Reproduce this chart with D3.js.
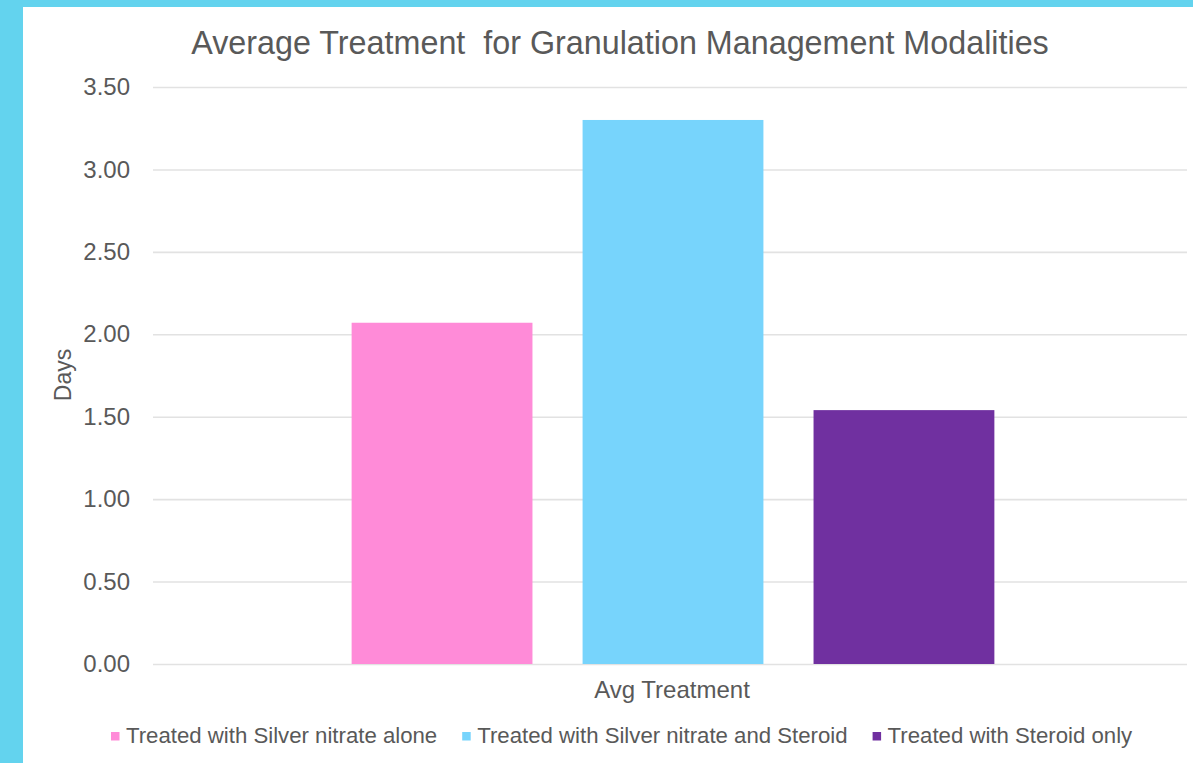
<!DOCTYPE html>
<html>
<head>
<meta charset="utf-8">
<script src="https://cdn.jsdelivr.net/npm/d3@7"></script>
<style>
  html, body { margin: 0; padding: 0; background: #63d3ee; }
  svg { display: block; }
  text { font-family: "Liberation Sans", Arial, Helvetica, sans-serif; fill: #595959; }
</style>
</head>
<body>
<svg id="chart" width="1193" height="763"></svg>
<script>
// Average days of treatment per granulation management modality
const categories = ["Avg Treatment"];
const seriesNames = [
  "Treated with Silver nitrate alone",
  "Treated with Silver nitrate and Steroid",
  "Treated with Steroid only"
];
const seriesValues = [2.07, 3.30, 1.54];
const seriesColors = ["#ff8bd8", "#77d4fc", "#7030a0"];
const yTicks = [0, 0.5, 1, 1.5, 2, 2.5, 3, 3.5];

const svg = d3.select("#chart");
const W = 1193, H = 763;

// white card on the cyan background
svg.append("rect")
  .attr("x", 23).attr("y", 7)
  .attr("width", W - 23).attr("height", H - 7)
  .attr("fill", "#ffffff");

const margin = { left: 153, right: 0, top: 87, bottom: 99 };
const plotW = W - margin.left - margin.right;
const plotH = H - margin.top - margin.bottom; // value 0 sits at y=664

const g = svg.append("g").attr("transform", `translate(${margin.left},${margin.top})`);

const y = d3.scaleLinear().domain([0, 3.5]).range([plotH, 0]);
const x0 = d3.scaleBand().domain(categories).range([0, plotW]).paddingInner(0).paddingOuter(0);
const x1 = d3.scaleBand().domain(seriesNames).range([0, x0.bandwidth()])
  .paddingInner(0.217).paddingOuter(0.86);

// gridlines and tick labels
const yAxis = d3.axisLeft(y).tickValues(yTicks).tickFormat(d3.format(".2f"))
  .tickSize(-(plotW - 6)).tickPadding(23);
const ax = g.append("g").call(yAxis);
ax.select(".domain").remove();
ax.selectAll(".tick line").attr("stroke", "#e2e2e2").attr("stroke-width", 1.6);
ax.selectAll(".tick text")
  .style("font-size", "24px").attr("fill", "#5f5f5f");

// bars
g.append("g").selectAll("rect")
  .data(seriesNames.map((s, i) => ({ s, v: seriesValues[i], c: seriesColors[i] })))
  .join("rect")
  .attr("x", d => x0(categories[0]) + x1(d.s))
  .attr("y", d => y(d.v))
  .attr("width", x1.bandwidth())
  .attr("height", d => plotH - y(d.v))
  .attr("fill", d => d.c);

// category label
g.append("text")
  .attr("x", x0(categories[0]) + x0.bandwidth() / 2 - 1)
  .attr("y", plotH + 34)
  .attr("text-anchor", "middle")
  .style("font-size", "24px")
  .text(categories[0]);

// title
svg.append("text")
  .attr("x", 620).attr("y", 54)
  .attr("text-anchor", "middle")
  .style("font-size", "32.3px")
  .style("white-space", "pre")
  .text("Average Treatment  for Granulation Management Modalities");

// y-axis title
svg.append("text")
  .attr("transform", `translate(71,375) rotate(-90)`)
  .attr("text-anchor", "middle")
  .style("font-size", "23px")
  .text("Days");

// legend
const legend = svg.append("g").attr("transform", "translate(0,743)");
let lx = 111;
seriesNames.forEach((s, i) => {
  const item = legend.append("g").attr("transform", `translate(${lx},0)`);
  item.append("rect").attr("x", 0).attr("y", -11).attr("width", 8.5).attr("height", 8.5)
    .attr("fill", seriesColors[i]);
  const t = item.append("text").attr("x", 15).attr("y", 0)
    .style("font-size", "22.2px").text(s);
  lx += 15 + t.node().getComputedTextLength() + 25;
});
</script>
</body>
</html>
